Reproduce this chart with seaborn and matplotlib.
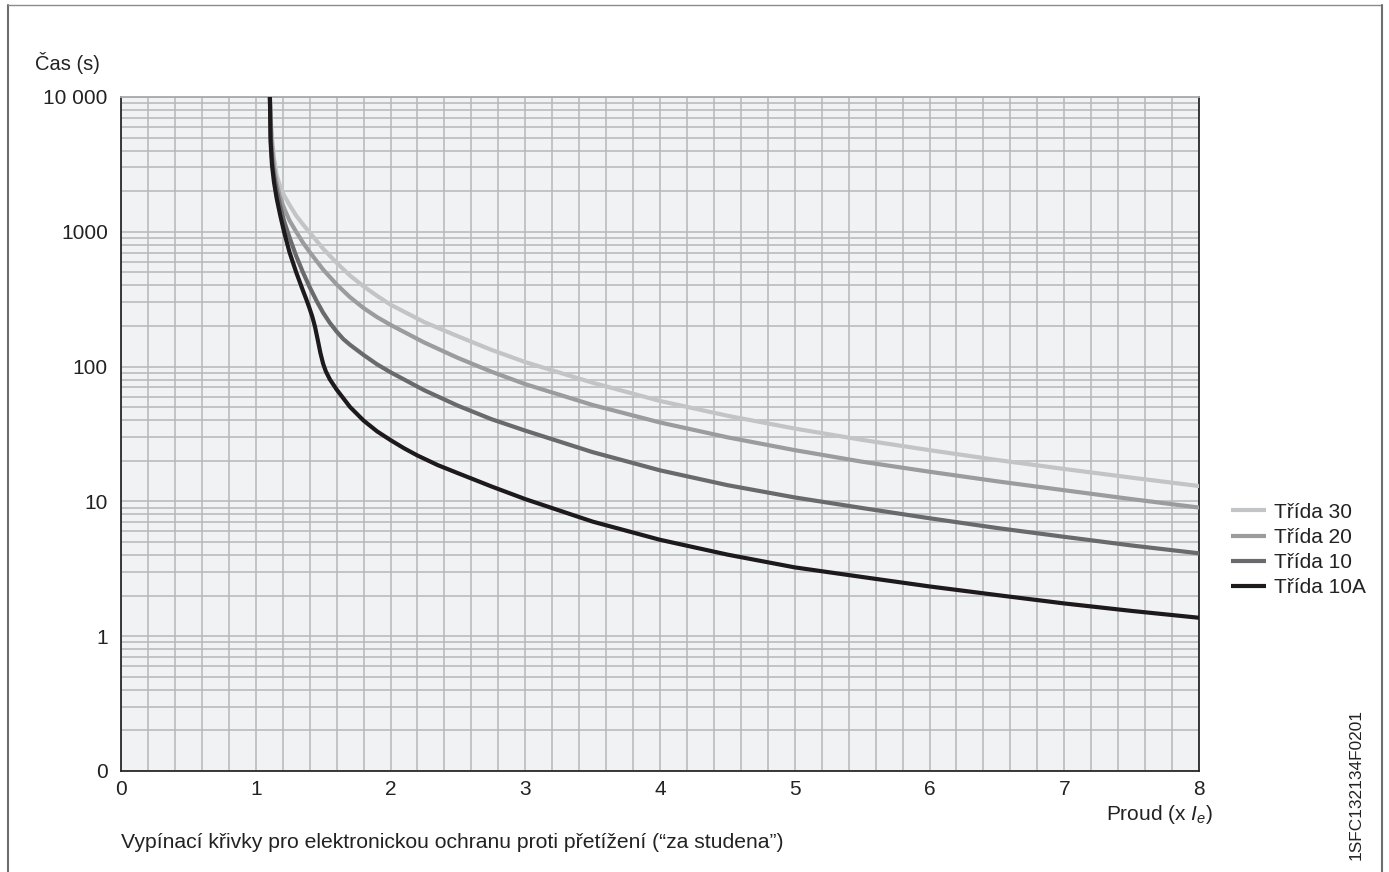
import numpy as np
import pandas as pd
import matplotlib
matplotlib.use("Agg")
import matplotlib.pyplot as plt
import matplotlib.ticker as mticker
from matplotlib.lines import Line2D
import seaborn as sns

# ---------------- data ----------------
series_names = ["Třída 30", "Třída 20", "Třída 10", "Třída 10A"]

x_30 = [1.105, 1.11, 1.12, 1.135, 1.155, 1.18, 1.21, 1.25, 1.30, 1.35, 1.40, 1.50, 1.60, 1.70,
        1.80, 1.90, 2.0, 2.25, 2.5, 2.75, 3.0, 3.5, 4.0, 4.5, 5.0, 5.5, 6.0, 6.5, 7.0, 7.5, 8.0]
t_30 = [10000, 7244, 5012, 3548, 2630, 2188, 1862, 1585, 1318, 1135, 989, 750, 589, 473,
        394, 335, 288, 214, 168, 133, 108, 75.9, 55.6, 43.2, 34.7, 28.6, 24.0, 20.3, 17.4, 15.0, 13.0]

x_20 = [1.105, 1.11, 1.12, 1.135, 1.155, 1.18, 1.21, 1.25, 1.30, 1.35, 1.40, 1.50, 1.60, 1.70,
        1.80, 1.90, 2.0, 2.25, 2.5, 2.75, 3.0, 3.5, 4.0, 4.5, 5.0, 5.5, 6.0, 6.5, 7.0, 7.5, 8.0]
t_20 = [10000, 6607, 4365, 3020, 2291, 1820, 1496, 1216, 1000, 832, 708, 525, 407, 327,
        272, 233, 204, 151, 116, 91.6, 74.1, 51.9, 38.5, 29.9, 24.0, 19.7, 16.6, 14.1, 12.1, 10.4, 9.0]

x_10 = [1.105, 1.11, 1.12, 1.135, 1.155, 1.18, 1.21, 1.25, 1.30, 1.35, 1.40, 1.45, 1.50, 1.55,
        1.60, 1.65, 1.70, 1.80, 1.90, 2.0, 2.25, 2.5, 2.75, 3.0, 3.5, 4.0, 4.5, 5.0, 5.5, 6.0,
        6.5, 7.0, 7.5, 8.0]
t_10 = [10000, 5248, 3548, 2630, 2042, 1585, 1202, 912, 661, 501, 389, 309, 251, 211,
        182, 160, 145, 122, 104, 90.8, 66.8, 51.3, 40.7, 33.5, 23.2, 17.0, 13.2, 10.7, 8.93, 7.50,
        6.35, 5.46, 4.71, 4.12]

x_10a = [1.105, 1.11, 1.12, 1.135, 1.155, 1.18, 1.21, 1.25, 1.30, 1.35, 1.375, 1.40, 1.42, 1.44,
         1.46, 1.48, 1.50, 1.52, 1.55, 1.60, 1.70, 1.80, 1.90, 2.0, 2.1, 2.2, 2.35, 2.5, 2.75,
         3.0, 3.5, 4.0, 4.5, 5.0, 5.5, 6.0, 6.5, 7.0, 7.5, 8.0]
t_10a = [10000, 4677, 3162, 2344, 1778, 1349, 1000, 708, 501, 367, 316, 269, 234, 197,
         158, 126, 105, 92.3, 80.4, 67.6, 50.1, 39.8, 33.1, 28.5, 24.8, 21.9, 18.6, 16.2, 12.9,
         10.4, 7.08, 5.19, 4.03, 3.24, 2.75, 2.34, 2.02, 1.75, 1.54, 1.37]

y_ticks = [0.1, 1, 10, 100, 1000, 10000]
y_tick_labels = ["0", "1", "10", "100", "1000", "10 000"]
x_ticks = [0, 1, 2, 3, 4, 5, 6, 7, 8]

colors = {"Třída 30": "#c3c4c6", "Třída 20": "#9b9c9e", "Třída 10": "#6a6a6c", "Třída 10A": "#1e1a1c"}

frames = []
for name, xs, ts in zip(series_names, [x_30, x_20, x_10, x_10a], [t_30, t_20, t_10, t_10a]):
    frames.append(pd.DataFrame({"x": xs, "t": ts, "series": name}))
df = pd.concat(frames, ignore_index=True)

# ---------------- style ----------------
sns.set_style("white")
plt.rcParams["font.family"] = ["Liberation Sans", "DejaVu Sans"]
plt.rcParams["mathtext.fontset"] = "custom"
plt.rcParams["mathtext.rm"] = "Liberation Sans"
plt.rcParams["mathtext.it"] = "Liberation Sans:italic"

W, H = 1389, 872
TXT = "#222222"
fig = plt.figure(figsize=(W / 100, H / 100), dpi=100)
fig.patch.set_facecolor("white")
ax = fig.add_axes([121 / W, 1 - 771 / H, (1199 - 121) / W, (771 - 97) / H])
ax.set_facecolor("#f1f2f4")

sns.lineplot(data=df, x="x", y="t", hue="series", hue_order=series_names, palette=colors,
             estimator=None, sort=False, linewidth=3.0, ax=ax, legend=False, zorder=3)
for ln in ax.lines:
    ln.set_solid_capstyle("round")
    ln.set_solid_joinstyle("round")

ax.set_yscale("log")
ax.set_xlim(0, 8)
ax.set_ylim(0.1, 10000)
ax.set_yticks(y_ticks)
ax.set_yticklabels(y_tick_labels)
ax.yaxis.set_minor_locator(mticker.LogLocator(base=10, subs=np.arange(2, 10)))
ax.yaxis.set_minor_formatter(mticker.NullFormatter())
ax.set_xticks(x_ticks)
ax.set_xticklabels([str(v) for v in x_ticks])
ax.xaxis.set_minor_locator(mticker.MultipleLocator(0.2))

ax.grid(True, which="both", color="#b6b7b9", linewidth=1.1, zorder=1)
ax.set_axisbelow(True)
ax.tick_params(axis="both", which="major", labelsize=15, length=3.5, width=1.0,
               color="#333333", labelcolor=TXT, direction="out")
ax.tick_params(axis="y", which="major", pad=6)
ax.tick_params(axis="x", which="major", pad=3)
ax.tick_params(axis="both", which="minor", length=0)
ax.set_xlabel("")
ax.set_ylabel("")

for side in ["left", "bottom", "right"]:
    ax.spines[side].set_visible(True)
    ax.spines[side].set_color("#2a2a2a")
    ax.spines[side].set_linewidth(1.3)
ax.spines["top"].set_visible(True)
ax.spines["top"].set_color("#a8a9ab")
ax.spines["top"].set_linewidth(1.3)

# legend
handles = [Line2D([0], [0], color=colors[n], linewidth=3.0, solid_capstyle="butt") for n in series_names]
fig.legend(handles, series_names, loc="center left", bbox_to_anchor=(1231 / W, 1 - 550 / H),
           bbox_transform=fig.transFigure, frameon=False, fontsize=15, handlelength=1.7,
           handletextpad=0.34, labelspacing=0.3, borderpad=0, borderaxespad=0,
           labelcolor=TXT)

# texts
fig.text(35 / W, 1 - 70 / H, "Čas (s)", fontsize=14.5, color=TXT, ha="left", va="baseline")
fig.text(1213 / W, 1 - 820 / H, r"Proud (x $I_e$)", fontsize=15, color=TXT,
         ha="right", va="baseline")
fig.text(121 / W, 1 - 848 / H,
         "Vypínací křivky pro elektronickou ochranu proti přetížení (“za studena”)",
         fontsize=15.2, color=TXT, ha="left", va="baseline")
fig.text(1356 / W, 1 - 860 / H, "1SFC132134F0201", fontsize=12.4, color=TXT,
         rotation=90, ha="center", va="bottom")

# frame around the figure (left, top, right)
fig.add_artist(Line2D([8 / W, 8 / W], [0, 1 - 5 / H], transform=fig.transFigure,
                      color="#6e6e6e", linewidth=1.5))
fig.add_artist(Line2D([8 / W, 1382 / W], [1 - 5 / H, 1 - 5 / H], transform=fig.transFigure,
                      color="#8a8a8a", linewidth=1.0))
fig.add_artist(Line2D([1382 / W, 1382 / W], [0, 1 - 5 / H], transform=fig.transFigure,
                      color="#6e6e6e", linewidth=1.5))

fig.savefig("out.png", dpi=100)
